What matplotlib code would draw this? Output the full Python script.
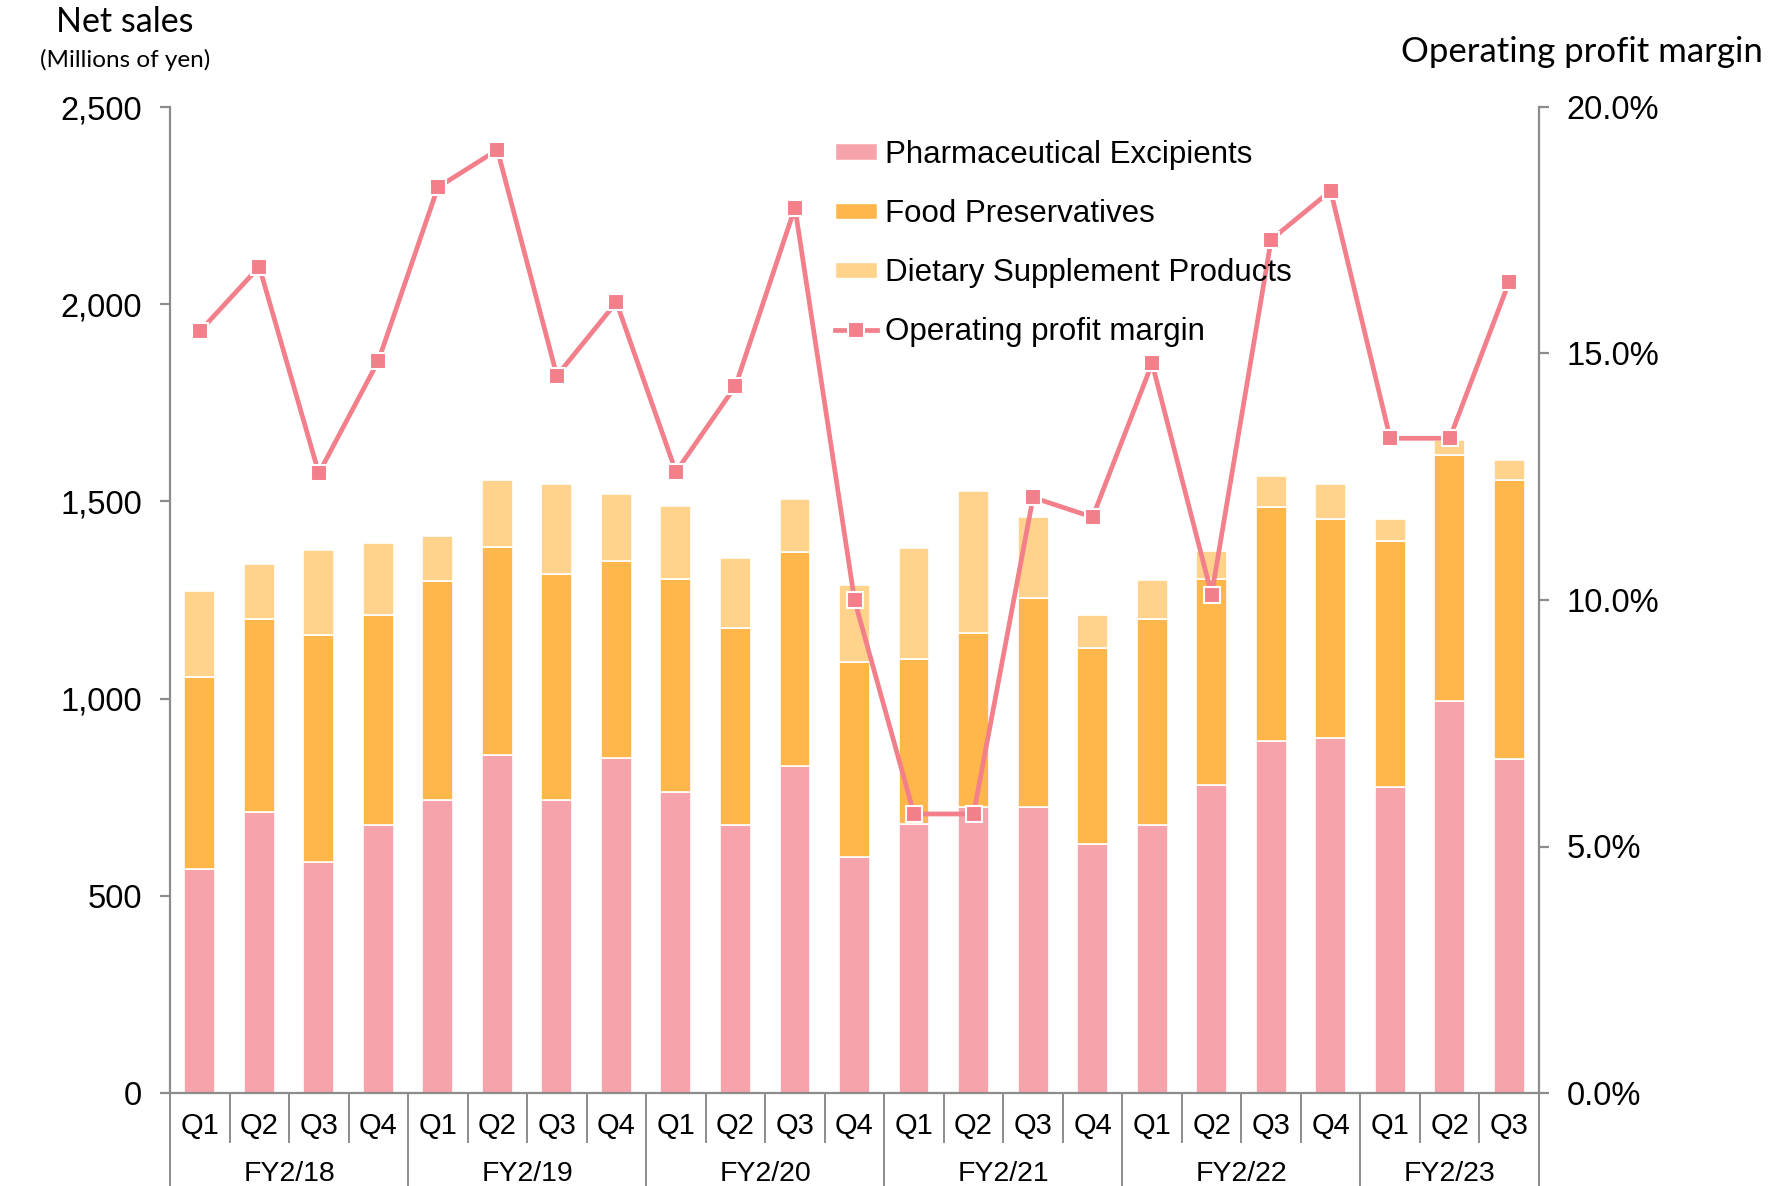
import matplotlib
matplotlib.use("Agg")
import matplotlib.pyplot as plt
from matplotlib import font_manager
from matplotlib.patches import Patch
from matplotlib.lines import Line2D
from matplotlib.ticker import FuncFormatter, MultipleLocator
import numpy as np

# ---------------- data ----------------
quarters = ['Q1', 'Q2', 'Q3', 'Q4'] * 5 + ['Q1', 'Q2', 'Q3']
fiscal_years = ['FY2/18', 'FY2/19', 'FY2/20', 'FY2/21', 'FY2/22', 'FY2/23']
quarters_per_year = [4, 4, 4, 4, 4, 3]

pharma = [568, 713, 585, 680, 743, 858, 743, 849, 764, 680, 828, 598,
          683, 726, 726, 632, 680, 781, 893, 901, 777, 995, 846]
food = [487, 490, 576, 533, 555, 527, 573, 501, 539, 498, 543, 496,
        418, 441, 529, 496, 523, 521, 592, 554, 623, 623, 708]
dietary = [218, 138, 217, 182, 114, 168, 229, 169, 185, 178, 135, 194,
           282, 360, 205, 84, 98, 71, 80, 89, 55, 38, 51]
margin = [15.45, 16.76, 12.57, 14.85, 18.37, 19.13, 14.55, 16.04,
          12.60, 14.34, 17.96, 10.00, 5.66, 5.66, 12.08, 11.68,
          14.80, 10.11, 17.31, 18.30, 13.28, 13.28, 16.46]

series_names = ['Pharmaceutical Excipients', 'Food Preservatives',
                'Dietary Supplement Products', 'Operating profit margin']

# ---------------- style ----------------
c_pharma = '#F7A3AB'
c_food = '#FFB74C'
c_diet = '#FFD38B'
c_line = '#F27F8A'
c_axis = '#8C8C8C'

names = {f.name for f in font_manager.fontManager.ttflist}
arial = 'Liberation Sans'
narrow = 'Liberation Sans Narrow' if 'Liberation Sans Narrow' in names else 'Liberation Sans'
calibri = 'Lato' if 'Lato' in names else 'DejaVu Sans'
plt.rcParams['font.family'] = [arial, 'DejaVu Sans']

fig = plt.figure(figsize=(17.8, 11.86), dpi=100)
ax = fig.add_axes([170 / 1780, 1 - 1093 / 1186, (1539 - 170) / 1780, (1093 - 107) / 1186])

x = np.arange(len(pharma))
pharma_a = np.array(pharma)
food_a = np.array(food)
diet_a = np.array(dietary)
w = 0.52
ax.bar(x, pharma_a, w, color=c_pharma, edgecolor='white', linewidth=1.2, zorder=2)
ax.bar(x, food_a, w, bottom=pharma_a, color=c_food, edgecolor='white', linewidth=1.2, zorder=2)
ax.bar(x, diet_a, w, bottom=pharma_a + food_a, color=c_diet, edgecolor='white', linewidth=1.2, zorder=2)

ax.set_xlim(-0.5, len(pharma) - 0.5)
ax.set_ylim(0, 2500)
ax.yaxis.set_major_locator(MultipleLocator(500))
ax.yaxis.set_major_formatter(FuncFormatter(lambda v, p: f'{int(v):,}'))
for s in ['top', 'right']:
    ax.spines[s].set_visible(False)
for s in ['left', 'bottom']:
    ax.spines[s].set_color(c_axis)
    ax.spines[s].set_linewidth(1.6)
ax.tick_params(axis='y', direction='out', length=7, width=1.6, color=c_axis,
               labelsize=23.5, pad=13)
ax.set_xticks(x)
ax.set_xticklabels(quarters, fontsize=21, family=[narrow, 'DejaVu Sans'])
ax.tick_params(axis='x', length=0, pad=14)

# category separators below the axis
trans = ax.get_xaxis_transform()
bounds = np.cumsum([0] + quarters_per_year)
for i in range(len(pharma) + 1):
    if i in bounds:
        ax.plot([i - 0.5, i - 0.5], [0, -0.12], transform=trans, color=c_axis,
                lw=1.4, clip_on=False, zorder=3)
    else:
        ax.plot([i - 0.5, i - 0.5], [0, -0.05], transform=trans, color=c_axis,
                lw=1.4, clip_on=False, zorder=3)
for k, fy in enumerate(fiscal_years):
    center = (bounds[k] + bounds[k + 1] - 1) / 2
    ax.text(center, -0.082, fy, transform=trans, ha='center', va='center',
            fontsize=20.5, family=[narrow, 'DejaVu Sans'])

# secondary axis
ax2 = ax.twinx()
ax2.plot(x, margin, color=c_line, lw=3.4, marker='s', markersize=11.5,
         markerfacecolor=c_line, markeredgecolor='white', markeredgewidth=1.5,
         zorder=5, clip_on=False)
ax2.set_ylim(0, 20)
ax2.yaxis.set_major_locator(MultipleLocator(5))
ax2.yaxis.set_major_formatter(FuncFormatter(lambda v, p: f'{v:.1f}%'))
for s in ['top', 'left', 'bottom']:
    ax2.spines[s].set_visible(False)
ax2.spines['right'].set_color(c_axis)
ax2.spines['right'].set_linewidth(1.6)
ax2.tick_params(axis='y', direction='out', length=7, width=1.6, color=c_axis,
                labelsize=23.5, pad=13)

# axis titles
fig.text(125 / 1780, 1 - 22 / 1186, 'Net sales', ha='center', va='center',
         fontsize=24.5, family=[calibri, 'DejaVu Sans'])
fig.text(125 / 1780, 1 - 60 / 1186, '(Millions of yen)', ha='center', va='center',
         fontsize=17.5, family=[calibri, 'DejaVu Sans'])
fig.text(1582 / 1780, 1 - 52 / 1186, 'Operating profit margin', ha='center', va='center',
         fontsize=25, family=[calibri, 'DejaVu Sans'])

# legend
handles = [Patch(facecolor=c_pharma, edgecolor='white'),
           Patch(facecolor=c_food, edgecolor='white'),
           Patch(facecolor=c_diet, edgecolor='white'),
           Line2D([0], [0], color=c_line, lw=3.4, marker='s', markersize=11.5,
                  markerfacecolor=c_line, markeredgecolor='white', markeredgewidth=1.5)]
leg = fig.legend(handles, series_names, loc='upper left',
                 bbox_to_anchor=(835 / 1780, 1 - 140 / 1186), frameon=False,
                 fontsize=22.5, handlelength=1.35, handleheight=0.45,
                 handletextpad=0.25, labelspacing=0.93, borderpad=0,
                 borderaxespad=0)

fig.savefig('out.png', dpi=100)
